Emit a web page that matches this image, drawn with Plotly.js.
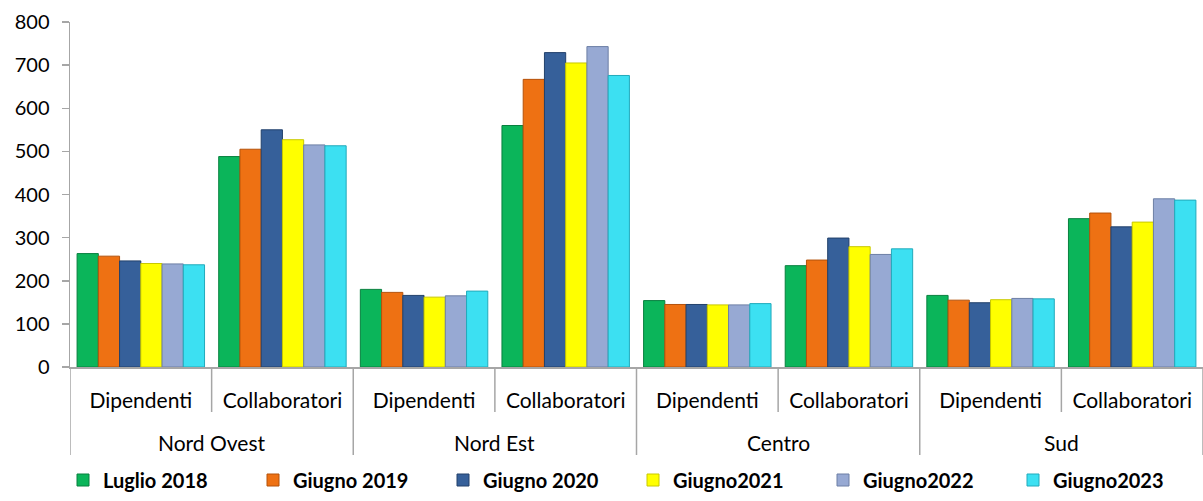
<!DOCTYPE html>
<html>
<head>
<meta charset="utf-8">
<script src="https://cdn.plot.ly/plotly-3.0.1.min.js"></script>
<style>html,body{margin:0;padding:0;background:#fff;}#chart{width:1203px;height:501px;}</style>
</head>
<body>
<div id="chart"></div>
<script>
const regions = ["Nord Ovest","Nord Ovest","Nord Est","Nord Est","Centro","Centro","Sud","Sud"];
const types = ["Dipendenti","Collaboratori","Dipendenti","Collaboratori","Dipendenti","Collaboratori","Dipendenti","Collaboratori"];
const seriesNames = ["Luglio 2018","Giugno 2019","Giugno 2020","Giugno2021","Giugno2022","Giugno2023"];
const luglio2018 = [263, 488, 180, 560, 154, 235, 166, 344];
const giugno2019 = [257, 505, 173, 667, 145, 248, 155, 357];
const giugno2020 = [246, 550, 166, 729, 145, 299, 149, 325];
const giugno2021 = [240, 527, 162, 705, 144, 279, 156, 336];
const giugno2022 = [239, 515, 165, 743, 144, 261, 159, 390];
const giugno2023 = [237, 513, 176, 676, 147, 274, 158, 387];
const yTicks = [0,100,200,300,400,500,600,700,800];

const allValues = [luglio2018, giugno2019, giugno2020, giugno2021, giugno2022, giugno2023];
const colors = ["#0BB55A","#EE7113","#36609A","#FFFF00","#97A9D3","#3CE0F2"];
const lineColors = ["#08803F","#B4520B","#22416B","#C8C800","#6D7FA5","#22AABB"];
const axisGrey = "#A6A6A6";

const keys = regions.map((r, i) => r + "|" + types[i]);

const traces = allValues.map((vals, i) => ({
  type: "bar",
  name: seriesNames[i],
  x: keys,
  y: vals,
  marker: {color: colors[i], line: {color: lineColors[i], width: 1}},
  hoverinfo: "y+name"
}));

// plot geometry (pixels) used only for axis decorations
const plotH = 501 - 22 - 134;
const px = p => -p / plotH;

const shapes = [];
const annotations = [];
for (let k = 0; k <= keys.length; k++) {
  const isGroupEdge = (k === 0 || k === keys.length || regions[k] !== regions[k - 1]);
  shapes.push({
    type: "line", xref: "x", yref: "paper",
    x0: k - 0.5, x1: k - 0.5, y0: 0, y1: px(isGroupEdge ? 88 : 45),
    line: {color: axisGrey, width: 1.5}
  });
}
const groupNames = [...new Set(regions)];
groupNames.forEach(g => {
  const idx = regions.map((r, i) => r === g ? i : -1).filter(i => i >= 0);
  const mid = (idx[0] + idx[idx.length - 1]) / 2;
  annotations.push({
    xref: "x", yref: "paper", x: mid, y: px(76), yanchor: "middle", xanchor: "center",
    text: g, showarrow: false, font: {size: 21, color: "#000"}
  });
});

const layout = {
  width: 1203, height: 501,
  margin: {l: 70, r: 0, t: 22, b: 134},
  paper_bgcolor: "#fff", plot_bgcolor: "#fff",
  font: {family: "Lato, 'Liberation Sans', sans-serif", size: 20, color: "#000"},
  barmode: "group",
  bargap: 0.1,
  bargroupgap: 0,
  showlegend: true,
  legend: {
    orientation: "h", x: -0.0012, xanchor: "left", y: px(113), yanchor: "middle",
    font: {size: 20, color: "#000", family: "Lato, sans-serif", weight: "bold"},
    entrywidth: 145, entrywidthmode: "pixels",
    itemwidth: 30, traceorder: "normal"
  },
  xaxis: {
    type: "category",
    categoryorder: "array", categoryarray: keys,
    tickvals: keys, ticktext: types,
    range: [-0.5, keys.length - 0.5],
    showline: true, linecolor: axisGrey, linewidth: 1.5,
    ticks: "",
    ticklabelstandoff: 14,
    tickfont: {size: 21, color: "#000"},
    showgrid: false, zeroline: false
  },
  yaxis: {
    range: [0, 800],
    tickvals: yTicks,
    ticktext: yTicks.map(String),
    showline: true, linecolor: axisGrey, linewidth: 1.5,
    ticks: "outside", ticklen: 7, tickcolor: axisGrey, tickwidth: 1.5,
    ticklabelstandoff: 8,
    tickfont: {size: 20, color: "#000"},
    showgrid: false, zeroline: false
  },
  shapes: shapes,
  annotations: annotations
};

Plotly.newPlot("chart", traces, layout, {displayModeBar: false, staticPlot: true});
</script>
</body>
</html>
